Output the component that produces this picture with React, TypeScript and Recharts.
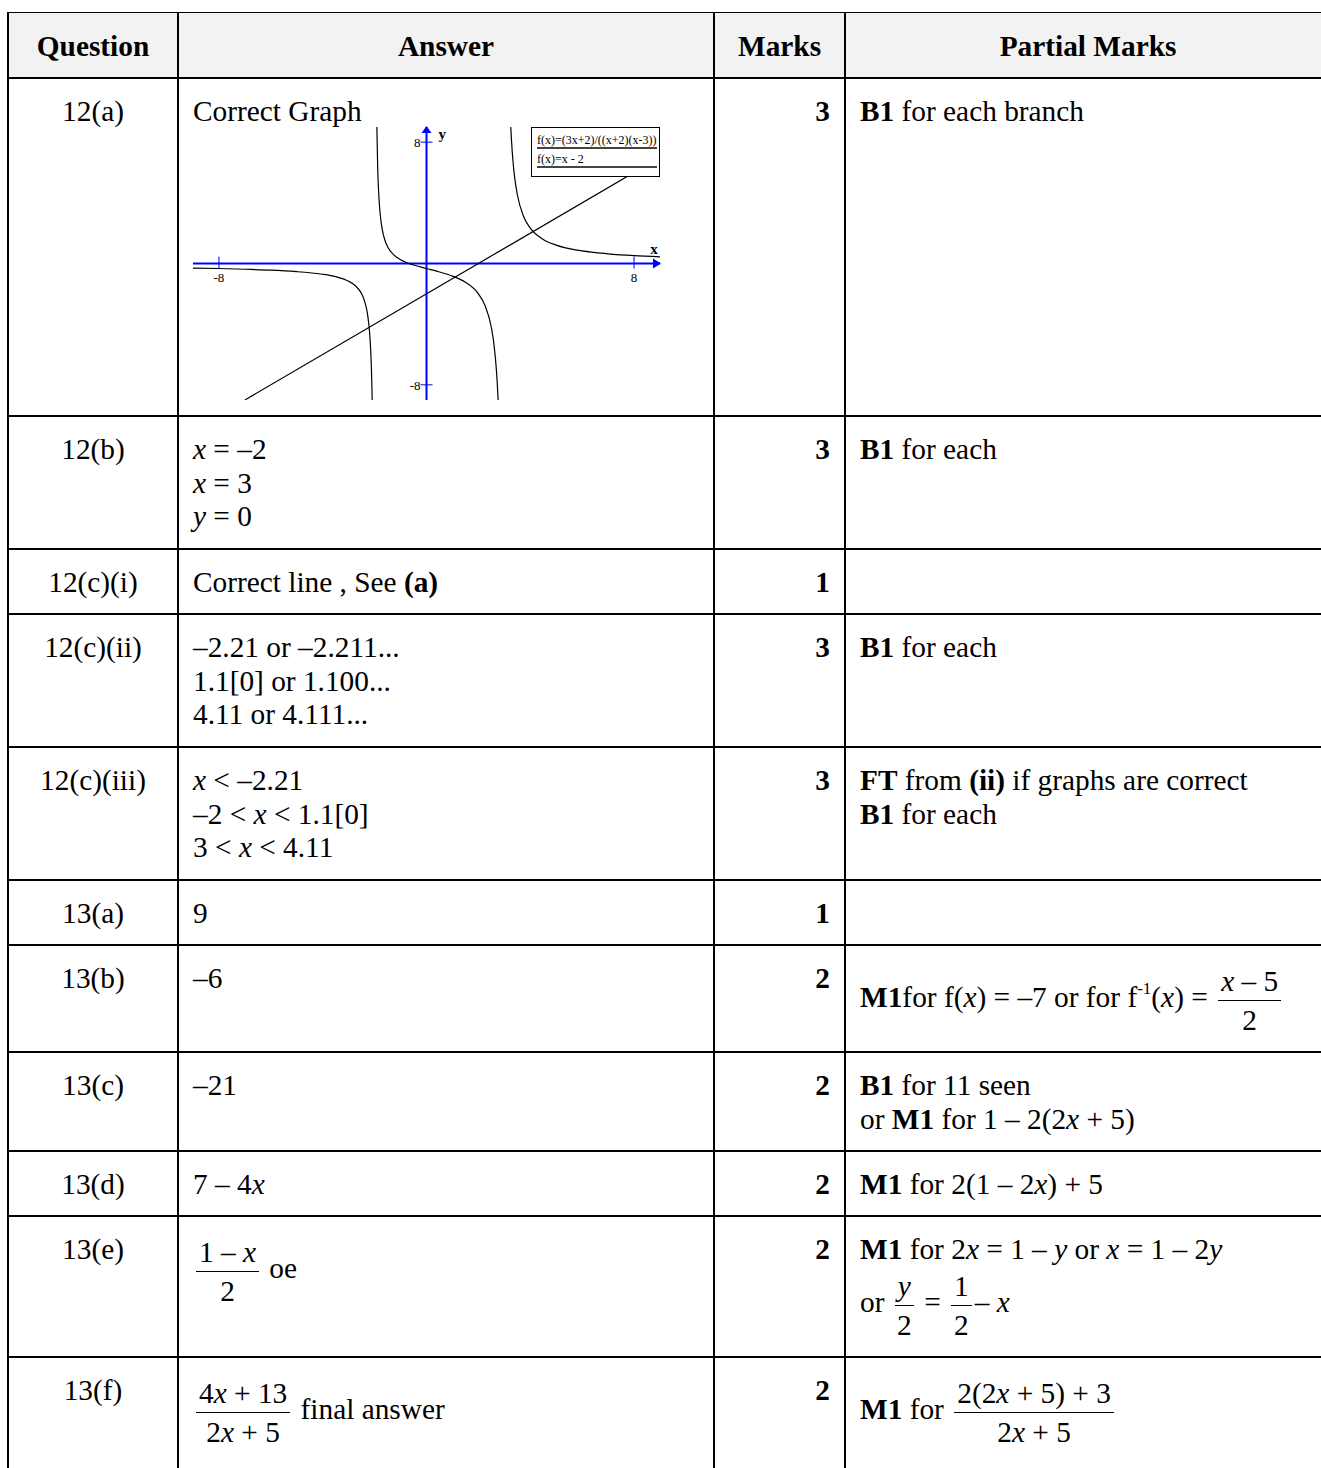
import React from 'react';
import { LineChart, Line, XAxis, YAxis, ReferenceLine, ReferenceDot, Legend } from 'recharts';

// ---------- chart data ----------
const X_DOMAIN: [number, number] = [-9, 9];
const Y_DOMAIN: [number, number] = [-9, 9];
const xTickValues = [-8, 8];
const xTickLabels = ['-8', '8'];
const yTickValues = [-8, 8];
const yTickLabels = ['-8', '8'];
const axisLabels = ['x', 'y'];
const seriesNames = ['f(x)=(3x+2)/((x+2)(x-3))', 'f(x)=x - 2'];

const leftBranchX = [-9, -8, -7, -6, -5, -4.5, -4, -3.5, -3, -2.75, -2.5, -2.4, -2.3, -2.25, -2.2, -2.15, -2.12, -2.1, -2.09];
const leftBranchY = [-0.3, -0.33, -0.38, -0.44, -0.54, -0.61, -0.71, -0.87, -1.17, -1.45, -2.0, -2.41, -3.08, -3.62, -4.42, -5.76, -7.1, -8.43, -9.32];

const midBranchX = [-1.92, -1.88, -1.85, -1.8, -1.75, -1.7, -1.6, -1.5, -1.25, -1, -0.5, 0, 0.5, 1, 1.5, 2, 2.25, 2.5, 2.6, 2.7, 2.75, 2.77];
const midBranchY = [9.55, 6.22, 4.88, 3.54, 2.74, 2.2, 1.52, 1.11, 0.55, 0.25, -0.1, -0.33, -0.56, -0.83, -1.24, -2.0, -2.75, -4.22, -5.33, -7.16, -8.63, -9.4];

const rightBranchX = [3.24, 3.27, 3.3, 3.35, 3.4, 3.5, 3.75, 4, 4.5, 5, 6, 7, 8, 9];
const rightBranchY = [9.32, 8.3, 7.48, 6.44, 5.65, 4.55, 3.07, 2.33, 1.59, 1.21, 0.83, 0.64, 0.52, 0.44];

const straightX = [-7, 9];
const straightY = [-9, 7];

const toPoints = (xs: number[], ys: number[]) => xs.map((x, i) => ({ x, y: ys[i] }));
const leftData = toPoints(leftBranchX, leftBranchY);
const midData = toPoints(midBranchX, midBranchY);
const rightData = toPoints(rightBranchX, rightBranchY);
const straightData = toPoints(straightX, straightY);

const BLUE = '#0000ff';
const SERIF = '"Liberation Serif", "Times New Roman", serif';

const XTickMark = (p: any) => (
  <g>
    <line x1={p.cx} x2={p.cx} y1={p.cy - 7} y2={p.cy + 5} stroke={BLUE} strokeWidth={1} />
    <text x={p.cx} y={p.cy + 18} textAnchor="middle" fontSize={13} fontFamily={SERIF} fill="#000">{p.label}</text>
  </g>
);
const YTickMark = (p: any) => (
  <g>
    <line x1={p.cx - 6} x2={p.cx + 6} y1={p.cy} y2={p.cy} stroke={BLUE} strokeWidth={1} />
    <text x={p.cx - 6} y={p.cy + 5} textAnchor="end" fontSize={13} fontFamily={SERIF} fill="#000">{p.label}</text>
  </g>
);
const ArrowRight = (p: any) => (
  <g>
    <polygon points={`${p.cx + 1},${p.cy} ${p.cx - 7},${p.cy - 5} ${p.cx - 7},${p.cy + 5}`} fill={BLUE} />
    <text x={p.cx - 6} y={p.cy - 10} textAnchor="middle" fontSize={15} fontWeight="bold" fontFamily={SERIF} fill="#000">{axisLabels[0]}</text>
  </g>
);
const ArrowUp = (p: any) => (
  <g>
    <polygon points={`${p.cx},${p.cy - 1} ${p.cx - 5},${p.cy + 6} ${p.cx + 5},${p.cy + 6}`} fill={BLUE} />
    <text x={p.cx + 12} y={p.cy + 12} textAnchor="start" fontSize={15} fontWeight="bold" fontFamily={SERIF} fill="#000">{axisLabels[1]}</text>
  </g>
);

const renderLegend = (props: any) => {
  const items = (props.payload || []).filter((e: any) => e.type !== 'none');
  return (
    <div style={{ width: 129, height: 50, boxSizing: 'border-box', border: '1px solid #000', background: '#fff', padding: '6px 4px 0 5px', fontFamily: SERIF, fontSize: 12 }}>
      {items.map((e: any, i: number) => (
        <div key={i} style={{ marginBottom: 4 }}>
          <div style={{ lineHeight: '13px', height: 13, whiteSpace: 'nowrap', color: '#000' }}>{e.value}</div>
          <div style={{ height: 2, background: '#444', width: 120 }} />
        </div>
      ))}
    </div>
  );
};

function Graph() {
  return (
    <LineChart width={487} height={293} margin={{ top: 10, right: 10, bottom: 10, left: 10 }}>
      <XAxis type="number" dataKey="x" domain={X_DOMAIN} allowDataOverflow hide />
      <YAxis type="number" dataKey="y" domain={Y_DOMAIN} allowDataOverflow hide />
      <ReferenceLine y={0} stroke={BLUE} strokeWidth={2} />
      <ReferenceLine x={0} stroke={BLUE} strokeWidth={2} />
      {xTickValues.map((v, i) => (
        <ReferenceDot key={'xt' + i} x={v} y={0} ifOverflow="visible" shape={(p: any) => <XTickMark {...p} label={xTickLabels[i]} />} />
      ))}
      {yTickValues.map((v, i) => (
        <ReferenceDot key={'yt' + i} x={0} y={v} ifOverflow="visible" shape={(p: any) => <YTickMark {...p} label={yTickLabels[i]} />} />
      ))}
      <ReferenceDot x={X_DOMAIN[1]} y={0} ifOverflow="visible" shape={(p: any) => <ArrowRight {...p} />} />
      <ReferenceDot x={0} y={Y_DOMAIN[1]} ifOverflow="visible" shape={(p: any) => <ArrowUp {...p} />} />
      <Line data={leftData} dataKey="y" name={seriesNames[0]} type="monotone" stroke="#000" strokeWidth={1.2} dot={false} isAnimationActive={false} />
      <Line data={midData} dataKey="y" name={seriesNames[0] + ' '} legendType="none" type="monotone" stroke="#000" strokeWidth={1.2} dot={false} isAnimationActive={false} />
      <Line data={rightData} dataKey="y" name={seriesNames[0] + '  '} legendType="none" type="monotone" stroke="#000" strokeWidth={1.2} dot={false} isAnimationActive={false} />
      <Line data={straightData} dataKey="y" name={seriesNames[1]} type="linear" stroke="#000" strokeWidth={1.2} dot={false} isAnimationActive={false} />
      <Legend content={renderLegend} layout="horizontal" verticalAlign="middle" align="center" wrapperStyle={{ top: 10, left: 348, width: 129, height: 50 }} />
    </LineChart>
  );
}

// ---------- table ----------
const I = ({ children }: any) => <i>{children}</i>;
const B = ({ children }: any) => <b>{children}</b>;
const Frac = ({ n, d, bar = 1.5 }: any) => (
  <span style={{ display: 'inline-flex', flexDirection: 'column', alignItems: 'center', verticalAlign: 'middle', margin: '0 3px' }}>
    <span style={{ lineHeight: '38px', padding: '0 3px', borderBottom: `${bar}px solid #000` }}>{n}</span>
    <span style={{ lineHeight: '38px' }}>{d}</span>
  </span>
);

const lineYs = [78, 416, 549, 614, 747, 880, 945, 1052, 1151, 1216, 1357];
const questions = ['12(a)', '12(b)', '12(c)(i)', '12(c)(ii)', '12(c)(iii)', '13(a)', '13(b)', '13(c)', '13(d)', '13(e)', '13(f)'];
const marks = ['3', '3', '1', '3', '3', '1', '2', '2', '2', '2', '2'];

const answers: React.ReactNode[] = [
  <>Correct Graph</>,
  <><I>x</I> = –2<br /><I>x</I> = 3<br /><I>y</I> = 0</>,
  <>Correct line , See <B>(a)</B></>,
  <>–2.21 or –2.211...<br />1.1[0] or 1.100...<br />4.11 or 4.111...</>,
  <><I>x</I> &lt; –2.21<br />–2 &lt; <I>x</I> &lt; 1.1[0]<br />3 &lt; <I>x</I> &lt; 4.11</>,
  <>9</>,
  <>–6</>,
  <>–21</>,
  <>7 – 4<I>x</I></>,
  <><Frac n={<>1 – <I>x</I></>} d="2" /> oe</>,
  <><Frac n={<>4<I>x</I> + 13</>} d={<>2<I>x</I> + 5</>} /> final answer</>,
];

const partials: React.ReactNode[] = [
  <><B>B1</B> for each branch</>,
  <><B>B1</B> for each</>,
  <></>,
  <><B>B1</B> for each</>,
  <><B>FT</B> from <B>(ii)</B> if graphs are correct<br /><B>B1</B> for each</>,
  <></>,
  <><B>M1</B>for f(<I>x</I>) = –7 or for f<span style={{ fontSize: '0.58em', position: 'relative', top: '-0.8em', marginLeft: 0 }}>-1</span>(<I>x</I>) = <Frac n={<><I>x</I> – 5</>} d="2" bar={1} /></>,
  <><B>B1</B> for 11 seen<br />or <B>M1</B> for 1 – 2(2<I>x</I> + 5)</>,
  <><B>M1</B> for 2(1 – 2<I>x</I>) + 5</>,
  <><B>M1</B> for 2<I>x</I> = 1 – <I>y</I> or <I>x</I> = 1 – 2<I>y</I><br />or <Frac n={<I>y</I>} d="2" /> = <Frac n="1" d="2" />– <I>x</I></>,
  <><B>M1</B> for <Frac n={<>2(2<I>x</I> + 5) + 3</>} d={<>2<I>x</I> + 5</>} /></>,
];

const colX = [8, 178, 714, 845];
const headers = ['Question', 'Answer', 'Marks', 'Partial Marks'];
const headerCenters = [93, 446, 779.5, 1088];

export default function App() {
  const abs = (s: React.CSSProperties): React.CSSProperties => ({ position: 'absolute', ...s });
  return (
    <div style={{ position: 'relative', width: 1321, height: 1468, overflow: 'hidden', fontFamily: SERIF, fontSize: 29.33, lineHeight: 1.149, color: '#000', background: '#fff' }}>
      <style>{`body{margin:0;}`}</style>
      <div style={abs({ left: 9, top: 13, width: 1312, height: 64, background: '#f2f2f2' })} />
      <div style={abs({ left: 7, top: 12, width: 1314, height: 1, background: '#000' })} />
      {lineYs.map((y, i) => (
        <div key={'h' + i} style={abs({ left: 7, top: y - 1, width: 1314, height: 2, background: '#000' })} />
      ))}
      {colX.map((x, i) => (
        <div key={'v' + i} style={abs({ left: x - 1, top: 12, width: 2, height: 1456, background: '#000' })} />
      ))}
      {headers.map((h, i) => (
        <div key={'hd' + i} style={abs({ left: headerCenters[i] - 200, width: 400, top: 30, textAlign: 'center', fontWeight: 'bold', whiteSpace: 'nowrap' })}>{h}</div>
      ))}
      {questions.map((q, i) => {
        const top = lineYs[i] + 1 + 16;
        return (
          <React.Fragment key={'r' + i}>
            <div style={abs({ left: 9, width: 168, top, textAlign: 'center', whiteSpace: 'nowrap' })}>{q}</div>
            <div style={abs({ left: 193, width: 515, top, whiteSpace: 'nowrap' })}>{answers[i]}</div>
            <div style={abs({ left: 715, width: 115, top, textAlign: 'right', fontWeight: 'bold' })}>{marks[i]}</div>
            <div style={abs({ left: 860, width: 470, top, whiteSpace: 'nowrap' })}>{partials[i]}</div>
          </React.Fragment>
        );
      })}
      <div style={abs({ left: 183, top: 117, width: 487, height: 293 })}>
        <Graph />
      </div>
    </div>
  );
}
